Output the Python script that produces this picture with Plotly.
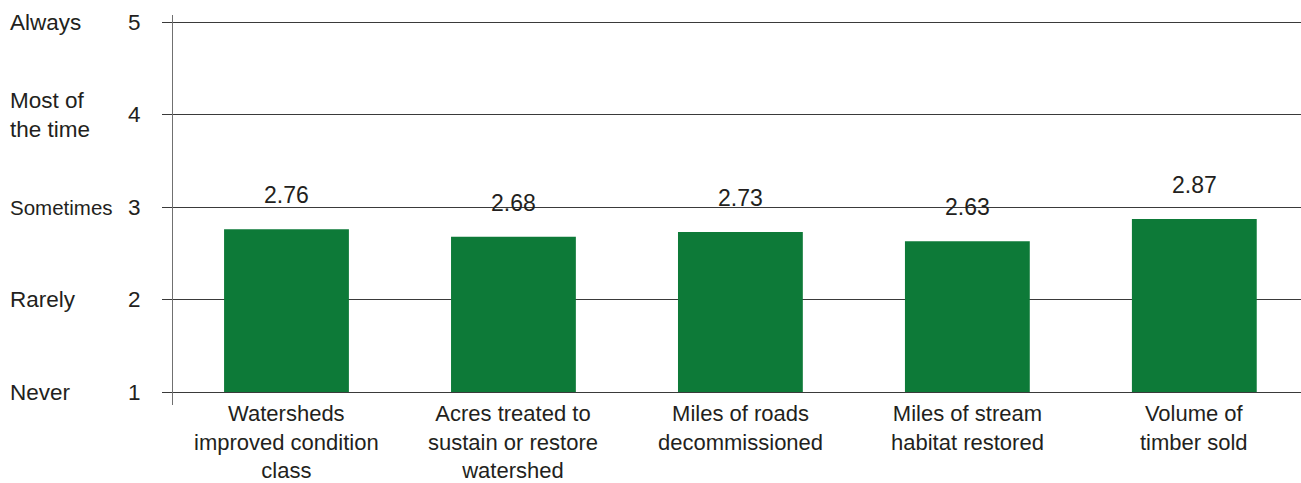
import plotly.graph_objects as go

categories = ["Watersheds<br>improved condition<br>class",
              "Acres treated to<br>sustain or restore<br>watershed",
              "Miles of roads<br>decommissioned",
              "Miles of stream<br>habitat restored",
              "Volume of<br>timber sold"]
values = [2.76, 2.68, 2.73, 2.63, 2.87]
scale_values = [1, 2, 3, 4, 5]
scale_labels = ["Never", "Rarely", "Sometimes", "Most of<br>the time", "Always"]

BASE = 1
FONT = "Liberation Sans, Arial, sans-serif"
TXT = "#231f20"

fig = go.Figure()
fig.add_trace(go.Bar(
    x=list(range(len(categories))),
    y=[v - BASE for v in values],
    base=BASE,
    width=0.55,
    marker=dict(color="#0d7a38", line=dict(width=0)),
    hoverinfo="skip",
))

annotations = []
for i, v in enumerate(values):
    annotations.append(dict(x=i, y=v, xref="x", yref="y", text=f"{v:.2f}",
                            showarrow=False, yanchor="middle", yshift=34,
                            font=dict(size=23, color=TXT, family=FONT)))
for i, c in enumerate(categories):
    annotations.append(dict(x=i, y=0, xref="x", yref="paper", text=c,
                            showarrow=False, yanchor="top", yshift=6,
                            font=dict(size=22, color=TXT, family=FONT)))
for s, lab in zip(scale_values, scale_labels):
    annotations.append(dict(x=0, y=s, xref="paper", yref="y", text=lab,
                            showarrow=False, xanchor="left", yanchor="middle",
                            xshift=-165, align="left",
                            font=dict(size=20.5 if lab == "Sometimes" else 22.5,
                                      color=TXT, family=FONT)))

fig.update_layout(
    width=1301, height=483,
    margin=dict(l=173, r=0, t=15, b=78, autoexpand=False),
    paper_bgcolor="white", plot_bgcolor="white",
    showlegend=False,
    annotations=annotations,
    font=dict(family=FONT, color=TXT, size=22),
    xaxis=dict(range=[-0.5, len(categories) - 0.53], showticklabels=False,
               showgrid=False, zeroline=False, showline=False, ticks="",
               automargin=False),
    yaxis=dict(range=[0.86, 5.076], tickvals=scale_values,
               ticktext=[str(s) for s in scale_values],
               ticks="outside", ticklen=10, tickcolor="#3a3a3a", tickwidth=1,
               showgrid=True, gridcolor="#3a3a3a", gridwidth=1,
               zeroline=False, showline=True, linecolor="#707070", linewidth=1,
               ticklabelstandoff=17, automargin=False,
               tickfont=dict(size=22.5, color=TXT, family=FONT)),
)

fig.write_html("out.html", config={"displayModeBar": False},
               post_script="document.body.style.margin='0';document.body.style.overflow='hidden';")
